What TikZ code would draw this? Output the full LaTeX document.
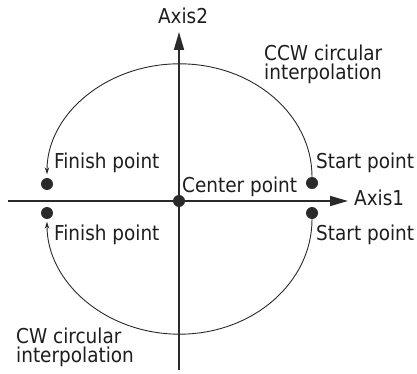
\documentclass[tikz,border=0pt]{standalone}
\usepackage{fontspec}
\setmainfont{DejaVu Sans Condensed}
\usetikzlibrary{arrows.meta}
\definecolor{ink}{HTML}{2A2A2A}
\definecolor{txt}{HTML}{1E1E1E}
\tikzset{
  axisline/.style={draw=ink, line width=1.7pt, -{Triangle[length=18pt,width=10pt]}},
  arcline/.style={draw=ink, line width=0.9pt, -{Stealth[length=7pt,width=4.5pt]}, shorten >=2.5pt},
  dot/.style={circle, fill=ink, inner sep=0pt, minimum size=12pt},
  lbl/.style={text=txt, inner sep=0pt, font=\fontsize{20.5}{19.5}\selectfont}
}
\begin{document}
\begin{tikzpicture}[x=1pt,y=1pt]
\useasboundingbox (0,0) rectangle (417,-374);
% axes
\coordinate (ybot) at (179,-370);
\coordinate (ytop) at (179,-32);
\coordinate (xleft) at (8,-201);
\coordinate (xright) at (348,-201);
\draw[axisline] (ybot) -- (ytop);
\draw[axisline] (xleft) -- (xright);
% dots
\node[dot] (c) at (179,-201) {};
\node[dot] (st) at (312,-183) {};
\node[dot] (ft) at (47,-184) {};
\node[dot] (sb) at (312,-213) {};
\node[dot] (fb) at (47,-213) {};
% arcs
\draw[arcline] (st.north) arc[start angle=0, end angle=180, x radius=132.5pt, y radius=113pt];
\draw[arcline] (sb.south) arc[start angle=0, end angle=-180, x radius=132.5pt, y radius=115pt];
% labels
\node[lbl, anchor=base] (ax2) at (183,-24) {Axis2};
\node[lbl, anchor=base west] (ax1) at (354,-205) {Axis1};
\node[lbl, anchor=north west, align=left] (ccw) at (264,-44.5) {CCW circular\\interpolation};
\node[lbl, anchor=north west, align=left] (cw) at (16,-327.5) {CW circular\\interpolation};
\node[lbl, anchor=base west] (ftl) at (54,-168) {Finish point};
\node[lbl, anchor=base west] (stl) at (316,-168) {Start point};
\node[lbl, anchor=base west] (cl) at (182,-192) {Center point};
\node[lbl, anchor=base west] (fbl) at (54,-240) {Finish point};
\node[lbl, anchor=base west] (sbl) at (316,-240) {Start point};
\end{tikzpicture}
\end{document}
